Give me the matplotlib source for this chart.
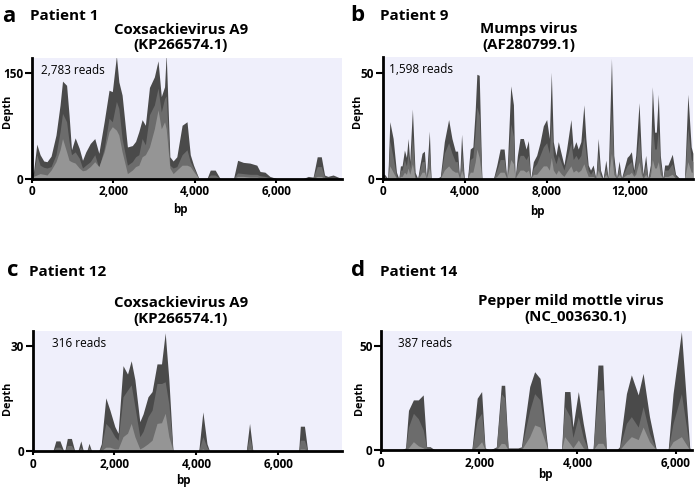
import matplotlib
matplotlib.use('Agg')
import matplotlib.pyplot as plt
from matplotlib.ticker import FuncFormatter

plt.rcParams['font.family'] = ['Open Sans', 'DejaVu Sans']

# ---------------- data ----------------
# Panel a: Patient 1, Coxsackievirus A9
A_X = [0, 50, 130, 210, 300, 380, 480, 600, 700, 760, 860, 920, 980, 1070, 1170, 1250, 1330, 1440, 1550, 1650,
       1780, 1900, 1980, 2080, 2140, 2220, 2350, 2470, 2550, 2630, 2710, 2790, 2890, 3010, 3100, 3180, 3260, 3300, 3390, 3470,
       3560, 3690, 3810, 3890, 3970, 4100, 4300, 4380, 4500, 4620, 4950, 5050, 5190, 5350, 5520, 5600, 5720, 5840, 6000, 6660,
       6780, 6900, 7000, 7100, 7180, 7260, 7390, 7510, 7600]
A_D = [5, 10, 49, 34, 25, 24, 32, 62, 105, 139, 133, 91, 41, 58, 43, 26, 38, 50, 57, 36,
       81, 126, 124, 175, 138, 119, 45, 47, 53, 67, 84, 76, 130, 145, 168, 117, 131, 178, 31, 25,
       31, 76, 81, 34, 19, 0, 0, 12, 12, 0, 0, 26, 23, 22, 19, 10, 9, 3, 0, 0,
       3, 2, 31, 31, 5, 3, 5, 2, 0]
A_M = [2, 5, 34, 19, 16, 15, 17, 34, 67, 93, 81, 53, 34, 38, 29, 15, 19, 24, 34, 15,
       43, 86, 81, 110, 100, 57, 19, 24, 31, 34, 57, 48, 91, 105, 129, 95, 114, 118, 19, 15,
       17, 34, 41, 24, 15, 0, 0, 5, 5, 0, 0, 8, 7, 6, 6, 4, 3, 1, 0, 0,
       1, 1, 17, 17, 2, 1, 2, 1, 0]
A_L = [1, 3, 5, 7, 6, 5, 12, 24, 41, 57, 38, 26, 24, 22, 15, 11, 12, 17, 24, 17,
       38, 67, 74, 69, 62, 38, 7, 12, 17, 19, 31, 34, 45, 71, 98, 71, 81, 71, 15, 7,
       12, 19, 19, 17, 10, 0, 0, 1, 1, 0, 0, 3, 3, 2, 2, 1, 1, 0, 0, 0,
       0, 0, 3, 3, 0, 0, 0, 0, 0]

# Panel b: Patient 9, Mumps virus
B_X = [0, 100, 259, 355, 517, 679, 792, 873, 953, 1066, 1163, 1244, 1325, 1454, 1584, 1713, 1810, 1923, 2036, 2133,
       2278, 2359, 2650, 2812, 3006, 3216, 3377, 3539, 3652, 3749, 3846, 3975, 4137, 4266, 4395, 4509, 4589, 4703, 4832, 5397,
       5559, 5721, 5915, 6044, 6238, 6367, 6448, 6561, 6690, 6852, 6981, 7094, 7207, 7337, 7498, 7660, 7821, 7983, 8112, 8209,
       8306, 8436, 8549, 8710, 8823, 8953, 9163, 9276, 9405, 9518, 9647, 9793, 9890, 10003, 10116, 10245, 10375, 10488, 10601, 10730,
       10860, 10973, 11134, 11248, 11377, 11506, 11619, 11894, 11991, 12104, 12217, 12314, 12476, 12589, 12670, 12799, 12912, 13025, 13122, 13235,
       13316, 13413, 13510, 13639, 13720, 13881, 14091, 14253, 14447, 14689, 14851, 15012, 15093]
B_D = [2, 2, 0, 27, 19, 3, 0, 6, 6, 13.5, 10, 19, 8, 33, 3, 0, 6, 12, 13, 0,
       22.5, 0, 0, 1, 17.5, 28, 19, 13, 13, 0, 21, 0, 0, 14, 15, 32.5, 49.5, 49, 0, 0,
       6.4, 14, 14, 0, 44, 35, 0, 11, 19, 19, 14, 18, 0, 8, 11, 17, 25, 28, 19, 50.5,
       17.5, 11, 17.5, 11, 6.4, 14, 28, 14, 17.5, 14, 17.5, 35, 19, 6.4, 4, 6.4, 0, 19, 4, 0,
       8.7, 0, 57, 11, 0, 8.3, 0, 10, 11, 12.7, 4, 11, 36, 11, 2, 11, 0, 6.4, 43.6, 22,
       22, 40, 11, 0, 6.4, 6.4, 11.5, 2, 0, 0, 40, 15, 12]
B_M = [1, 1, 0, 18, 10, 1, 0, 4, 4, 9, 6, 12, 5, 20, 1, 0, 4, 8, 8, 0,
       14, 0, 0, 0, 12, 17, 12, 8, 8, 0, 12, 0, 0, 9, 10, 22, 34, 30, 0, 0,
       4, 9, 9, 0, 26, 20, 0, 7, 11, 11, 9, 11, 0, 5, 7, 11, 15, 17, 12, 28,
       11, 7, 11, 7, 4, 9, 17, 9, 11, 9, 11, 20, 12, 4, 2, 4, 0, 12, 2, 0,
       5, 0, 33, 7, 0, 5, 0, 6, 7, 8, 2, 7, 21, 7, 1, 7, 0, 4, 25, 14,
       14, 23, 7, 0, 4, 4, 7, 1, 0, 0, 24, 9, 8]
B_L = [0, 0, 0, 6, 3, 0, 0, 1, 1, 3, 2, 5, 2, 7, 0, 0, 1, 3, 3, 0,
       5, 0, 0, 0, 4, 6, 4, 3, 3, 0, 4, 0, 0, 3, 3, 8, 14, 10, 0, 0,
       1, 3, 3, 0, 9, 7, 0, 2, 4, 4, 3, 4, 0, 2, 2, 4, 6, 6, 4, 10,
       4, 2, 4, 2, 1, 3, 6, 3, 4, 3, 4, 7, 4, 1, 1, 1, 0, 4, 1, 0,
       2, 0, 12, 2, 0, 2, 0, 2, 2, 3, 1, 2, 8, 2, 0, 2, 0, 1, 9, 5,
       5, 8, 2, 0, 1, 1, 2, 0, 0, 0, 8, 3, 3]

# Panel c: Patient 12, Coxsackievirus A9
C_X = [0, 500, 570, 670, 760, 790, 850, 950, 1030, 1110, 1180, 1240, 1330, 1380, 1440, 1620, 1680, 1790, 1890, 2010,
       2090, 2210, 2320, 2410, 2500, 2620, 2700, 2820, 2920, 3040, 3150, 3240, 3330, 3430, 4060, 4160, 4260, 4320, 5220, 5300,
       5380, 6500, 6540, 6640, 6720, 7600]
C_D = [0, 0, 2.8, 2.8, 0, 0, 3.5, 3.5, 0, 0, 2.8, 0, 0, 2.1, 0, 0, 2, 15.1, 11.6, 6.9,
       5, 24.3, 21.9, 25.7, 20.3, 8.3, 10.5, 15.4, 16.9, 24.8, 24.8, 33.7, 20.3, 0, 0, 11.1, 2, 0, 0, 7.8,
       0, 0, 7, 7, 0, 0]
C_M = [0, 0, 1, 1, 0, 0, 1.5, 1.5, 0, 0, 1, 0, 0, 1, 0, 0, 1, 7.8, 6.5, 4,
       3, 15.4, 17.3, 18.8, 12.6, 4, 5.5, 9.7, 11.6, 19.2, 19.2, 19.7, 13.3, 0, 0, 4, 1, 0, 0, 4,
       0, 0, 3, 3, 0, 0]
C_L = [0, 0, 0, 0, 0, 0, 0, 0, 0, 0, 0, 0, 0, 0, 0, 0, 0, 1, 1, 0.5,
       0.5, 4, 5, 7.8, 4, 0.5, 1, 2, 3, 7.8, 8, 10.7, 4, 0, 0, 0.5, 0, 0, 0, 0.5,
       0, 0, 0.5, 0.5, 0, 0]

# Panel d: Patient 14, Pepper mild mottle virus
D_X = [0, 420, 500, 560, 660, 760, 860, 930, 1000, 1100, 1850, 1960, 2050, 2120, 2220, 2350, 2450, 2520, 2590, 2790,
       2860, 3030, 3130, 3240, 3400, 3680, 3740, 3850, 3910, 4020, 4120, 4220, 4320, 4420, 4520, 4590, 4800, 4860, 5000, 5100,
       5240, 5340, 5470, 5610, 5850, 5950, 6120, 6290, 6330]
D_D = [0, 0, 1, 19, 24, 24, 26.4, 1.6, 1.6, 0, 0, 24.8, 28, 1, 0, 1.5, 31, 31, 1, 1,
       1.5, 30.4, 37.5, 34.3, 0, 0, 28, 28, 11, 28, 12.8, 0, 0, 40.7, 40.7, 0, 0, 1.6, 27, 36,
       26.4, 36.7, 16, 0, 0, 27, 56.7, 1, 0]
D_M = [0, 0, 0.5, 11, 17.6, 15, 9.6, 1, 1, 0, 0, 14.4, 17.6, 0.5, 0, 1, 27, 25, 0.5, 0.5,
       1, 19, 27, 24, 0, 0, 20.8, 16, 6, 16, 6, 0, 0, 28.8, 28.8, 0, 0, 1, 12.8, 16,
       11, 20.8, 8, 0, 0, 12.8, 27, 0.5, 0]
D_L = [0, 0, 0, 1, 4, 2, 1, 0, 0, 0, 0, 1.5, 4, 0, 0, 0, 3.2, 3, 0, 0,
       0, 6.4, 12, 11, 0, 0, 6.4, 3, 1, 4.8, 1, 0, 0, 3.2, 3.2, 0, 0, 0, 4, 6.4,
       5, 11, 4, 0, 0, 4, 6.4, 0, 0]

LETTERS = ['a', 'b', 'c', 'd']
PATIENTS = ['Patient 1', 'Patient 9', 'Patient 12', 'Patient 14']
VIRUSES = ['Coxsackievirus A9', 'Mumps virus', 'Coxsackievirus A9', 'Pepper mild mottle virus']
ACCESSIONS = ['(KP266574.1)', '(AF280799.1)', '(KP266574.1)', '(NC_003630.1)']
READS = ['2,783 reads', '1,598 reads', '316 reads', '387 reads']
XTICKS = [[0, 2000, 4000, 6000], [0, 4000, 8000, 12000], [0, 2000, 4000, 6000], [0, 2000, 4000, 6000]]
YTICKS = [[0, 150], [0, 50], [0, 30], [0, 50]]
XMAX = [7600, 15100, 7550, 6330]
YMAX = [172, 57.7, 34.2, 57]

SERIES = [(A_X, A_D, A_M, A_L), (B_X, B_D, B_M, B_L), (C_X, C_D, C_M, C_L), (D_X, D_D, D_M, D_L)]

# ---------------- styling / layout ----------------
W, H = 697, 490
BG = '#efeffb'
DARK, MID, LIGHT = '#4a4a4a', '#6c6c6c', '#959595'

def rect(l, r, t, b):
    return [l / W, 1 - b / H, (r - l) / W, (b - t) / H]

AX_RECTS = [rect(31.5, 341.7, 58, 178.5), rect(382.5, 693, 57, 178.5),
            rect(32.5, 341.7, 331, 450.7), rect(381, 691.7, 331, 450)]
YLAB_POS = [(-0.076, 0.556), (-0.079, 0.557), (-0.081, 0.44), (-0.068, 0.437)]
XLAB_POS = [(0.479, -0.26), (0.50, -0.275), (0.487, -0.253), (0.528, -0.207)]
READS_POS = [(0.03, 0.90), (0.022, 0.90), (0.062, 0.897), (0.055, 0.897)]
LETTER_POS = [(2, 21.5), (350, 20.7), (6.7, 276), (351, 276)]
PATIENT_POS = [(30, 20), (380, 20), (29.3, 276), (380.3, 276)]
TITLE_POS = [(180.8, 34.3), (529, 33.5), (180.8, 307), (571, 305)]
ACC_POS = [(180.8, 49.3), (529, 49.3), (180.8, 323.3), (575.7, 321)]

fig = plt.figure(figsize=(W / 100, H / 100), dpi=100)
fmt = FuncFormatter(lambda v, p: f'{int(v):,}')

for i in range(4):
    x, d, m, l = SERIES[i]
    assert len(x) == len(d) == len(m) == len(l)
    ax = fig.add_axes(AX_RECTS[i])
    ax.set_facecolor(BG)
    ax.fill_between(x, 0, d, color=DARK, lw=0)
    ax.fill_between(x, 0, m, color=MID, lw=0)
    ax.fill_between(x, 0, l, color=LIGHT, lw=0)
    ax.set_xlim(0, XMAX[i])
    ax.set_ylim(0, YMAX[i])
    for s in ['top', 'right']:
        ax.spines[s].set_visible(False)
    for s in ['left', 'bottom']:
        ax.spines[s].set_linewidth(2)
        ax.spines[s].set_zorder(5)
    ax.set_xticks(XTICKS[i])
    ax.set_yticks(YTICKS[i])
    ax.xaxis.set_major_formatter(fmt)
    ax.tick_params(axis='x', length=3, width=1.5, pad=2, labelsize=8.5)
    ax.tick_params(axis='y', length=5, width=1.5, pad=1, labelsize=8.5)
    for lab in ax.get_xticklabels() + ax.get_yticklabels():
        lab.set_fontweight('bold')
    ax.text(YLAB_POS[i][0], YLAB_POS[i][1], 'Depth', transform=ax.transAxes,
            rotation=90, fontsize=7.8, fontweight='bold', ha='center', va='center')
    ax.text(XLAB_POS[i][0], XLAB_POS[i][1], 'bp', transform=ax.transAxes,
            fontsize=8.3, fontweight='bold', ha='center', va='center')
    ax.text(READS_POS[i][0], READS_POS[i][1], READS[i], transform=ax.transAxes,
            fontsize=8.5, va='center', ha='left')

    fig.text(LETTER_POS[i][0] / W, 1 - LETTER_POS[i][1] / H, LETTERS[i],
             fontsize=16, fontweight='bold', va='baseline', ha='left')
    fig.text(PATIENT_POS[i][0] / W, 1 - PATIENT_POS[i][1] / H, PATIENTS[i],
             fontsize=11, fontweight='bold', va='baseline', ha='left')
    fig.text(TITLE_POS[i][0] / W, 1 - TITLE_POS[i][1] / H, VIRUSES[i],
             fontsize=10.8, fontweight='bold', va='baseline', ha='center')
    fig.text(ACC_POS[i][0] / W, 1 - ACC_POS[i][1] / H, ACCESSIONS[i],
             fontsize=10.8, fontweight='bold', va='baseline', ha='center')

fig.savefig('out.png', dpi=100)
